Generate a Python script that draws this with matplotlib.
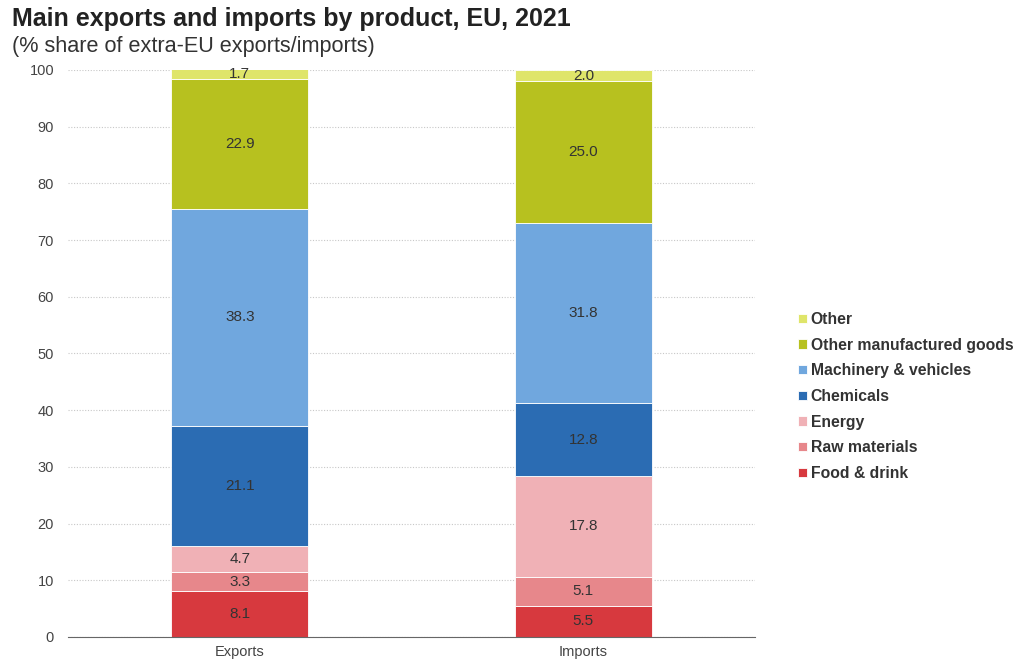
import numpy as np
import matplotlib
matplotlib.use("Agg")
import matplotlib.pyplot as plt

plt.rcParams["font.family"] = ["Liberation Sans", "DejaVu Sans"]

groups = ["Exports", "Imports"]
products = ["Food & drink", "Raw materials", "Energy", "Chemicals",
            "Machinery & vehicles", "Other manufactured goods", "Other"]
exports = [8.1, 3.3, 4.7, 21.1, 38.3, 22.9, 1.7]
imports = [5.5, 5.1, 17.8, 12.8, 31.8, 25.0, 2.0]
colors = ["#d7393e", "#e7878b", "#f0b1b6", "#2b6cb3", "#70a7de", "#b7c11f", "#dfe56a"]

fig = plt.figure(figsize=(10.21, 6.64), dpi=100)
ax = fig.add_axes([0.0666, 0.0407, 0.673, 0.854])

x = np.arange(len(groups))
bottom = np.zeros(len(groups))
for i, name in enumerate(products):
    vals = np.array([exports[i], imports[i]])
    ax.bar(x, vals, 0.4, bottom=bottom, color=colors[i], label=name,
           edgecolor="white", linewidth=0.6, zorder=2)
    for xi, v, b in zip(x, vals, bottom):
        ax.text(xi, b + v / 2, f"{v:.1f}", ha="center", va="center",
                fontsize=11, color="#333333", zorder=3)
    bottom += vals

ax.set_xlim(-0.5, 1.5)
ax.set_ylim(0, 100)
ax.set_yticks(range(0, 101, 10))
ax.set_xticks(x)
ax.set_xticklabels(groups)
ax.tick_params(axis="both", length=0, labelsize=10.5, colors="#444444", pad=6)
ax.tick_params(axis="y", pad=10)
ax.yaxis.grid(True, linestyle=(0, (1, 1.5)), color="#c8c8c8", linewidth=0.8, zorder=0)
for s in ["top", "right", "left"]:
    ax.spines[s].set_visible(False)
ax.spines["bottom"].set_color("#666666")

handles, labels = ax.get_legend_handles_labels()
leg = fig.legend(handles[::-1], labels[::-1], loc="center left",
                 bbox_to_anchor=(0.768, 0.403), frameon=False, fontsize=11.3,
                 handlelength=0.55, handleheight=0.55, handletextpad=0.25,
                 labelspacing=0.68)
for t in leg.get_texts():
    t.set_fontweight("bold")
    t.set_color("#333333")

fig.text(0.012, 0.971, "Main exports and imports by product, EU, 2021",
         fontsize=18, fontweight="bold", color="#222222", va="center")
fig.text(0.012, 0.930, "(% share of extra-EU exports/imports)",
         fontsize=15.6, color="#333333", va="center")

fig.savefig("out.png", dpi=100)
